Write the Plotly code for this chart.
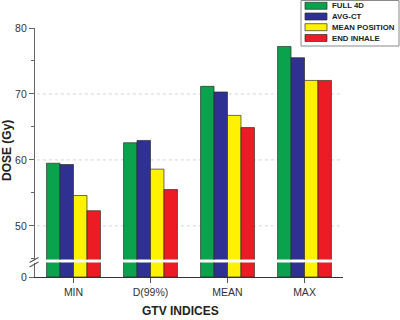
import plotly.graph_objects as go

categories = ["MIN", "D(99%)", "MEAN", "MAX"]
series_names = ["FULL 4D", "AVG-CT", "MEAN POSITION", "END INHALE"]
full_4d = [59.5, 62.6, 71.15, 77.2]
avg_ct = [59.3, 62.95, 70.3, 75.5]
mean_position = [54.6, 58.6, 66.75, 72.05]
end_inhale = [52.3, 55.5, 64.9, 72.05]
series_values = [full_4d, avg_ct, mean_position, end_inhale]
colors = ["#0ba24e", "#2e3192", "#fff200", "#ed1c24"]
upper_ticks = [50, 60, 70, 80]
grid_values = [50, 60, 70]
lower_ticks = [0]

W, H = 400, 320
L, R, T, B = 35, 343, 28, 277
pw, ph = R - L, B - T


def px(p):
    return (p - L) / pw


def py(p):
    return (B - p) / ph


font_family = "Liberation Sans, Arial, sans-serif"
fig = go.Figure()

for name, vals, col in zip(series_names, series_values, colors):
    for yax in ("y", "y2"):
        fig.add_trace(go.Bar(
            x=categories, y=vals, name=name, xaxis="x", yaxis=yax,
            marker=dict(color=col, line=dict(color="rgba(40,40,40,0.75)", width=0.9)),
            showlegend=False, hoverinfo="x+y+name",
        ))

shapes = []
# dotted gridlines
for g in grid_values:
    shapes.append(dict(type="line", xref="paper", yref="y2", x0=0.006, x1=0.997,
                       y0=g, y1=g, line=dict(color="#d4d4d4", width=1, dash="dot"),
                       layer="below"))
# axis break marks
for (x0, y0, x1, y1) in [(29.5, 262.5, 38.5, 257.5), (29.5, 267.0, 38.5, 262.0)]:
    shapes.append(dict(type="line", xref="paper", yref="paper",
                       x0=px(x0), y0=py(y0), x1=px(x1), y1=py(y1),
                       line=dict(color="#555555", width=1.1)))

# custom legend
shapes.append(dict(type="rect", xref="paper", yref="paper",
                   x0=px(301), x1=px(399), y0=py(46), y1=py(0.5),
                   line=dict(color="#8a8a8a", width=1), fillcolor="white"))
annotations = []
row_centers = [5.8, 16.5, 27.2, 38.0]
for name, col, rc in zip(series_names, colors, row_centers):
    shapes.append(dict(type="rect", xref="paper", yref="paper",
                       x0=px(305), x1=px(327), y0=py(rc + 3.5), y1=py(rc - 3.5),
                       line=dict(color="rgba(40,40,40,0.75)", width=0.9), fillcolor=col))
    annotations.append(dict(text="<b>%s</b>" % name, xref="paper", yref="paper",
                            x=px(329.5), y=py(rc), xanchor="left", yanchor="middle",
                            showarrow=False,
                            font=dict(family=font_family, size=7.8, color="#222222")))

annotations.append(dict(text="<b>DOSE (Gy)</b>", xref="paper", yref="paper",
                        x=px(7), y=py(151), textangle=-90, showarrow=False,
                        xanchor="center", yanchor="middle",
                        font=dict(family=font_family, size=12, color="#222222")))
annotations.append(dict(text="<b>GTV INDICES</b>", xref="paper", yref="paper",
                        x=px(180), y=py(311), showarrow=False,
                        xanchor="center", yanchor="middle",
                        font=dict(family=font_family, size=12, color="#222222")))

tickfont = dict(family=font_family, size=10.5, color="#333333")

fig.update_layout(
    width=W, height=H,
    margin=dict(l=L, r=W - R, t=T, b=H - B, pad=0),
    paper_bgcolor="white", plot_bgcolor="white",
    barmode="group", bargap=0.3, bargroupgap=0,
    showlegend=False,
    shapes=shapes, annotations=annotations,
    xaxis=dict(domain=[0, 1], anchor="y", range=[-0.5, 3.5], type="category",
               showline=True, linecolor="#333333", linewidth=1.3,
               ticks="outside", ticklen=5, tickwidth=1.2, tickcolor="#555555",
               showgrid=False, zeroline=False, tickfont=tickfont, fixedrange=True),
    yaxis=dict(domain=[0, py(262.5)], range=[0, 1], tickvals=lower_ticks,
               showline=True, linecolor="#666666", linewidth=1.3,
               ticks="outside", ticklen=5, tickwidth=1.2, tickcolor="#666666",
               showgrid=False, zeroline=False, tickfont=tickfont, anchor="x"),
    yaxis2=dict(domain=[py(259.5), 1], range=[44.9, 80], tickvals=upper_ticks,
                showline=True, linecolor="#666666", linewidth=1.3,
                ticks="outside", ticklen=5, tickwidth=1.2, tickcolor="#666666",
                minor=dict(ticks="outside", ticklen=3, tickwidth=1, tickcolor="#666666",
                           tick0=45, dtick=10, showgrid=False),
                showgrid=False, zeroline=False, tickfont=tickfont, anchor="x"),
)

fig.write_html("out.html", config={"displayModeBar": False},
               post_script="document.body.style.margin='0';document.body.style.padding='0';")
